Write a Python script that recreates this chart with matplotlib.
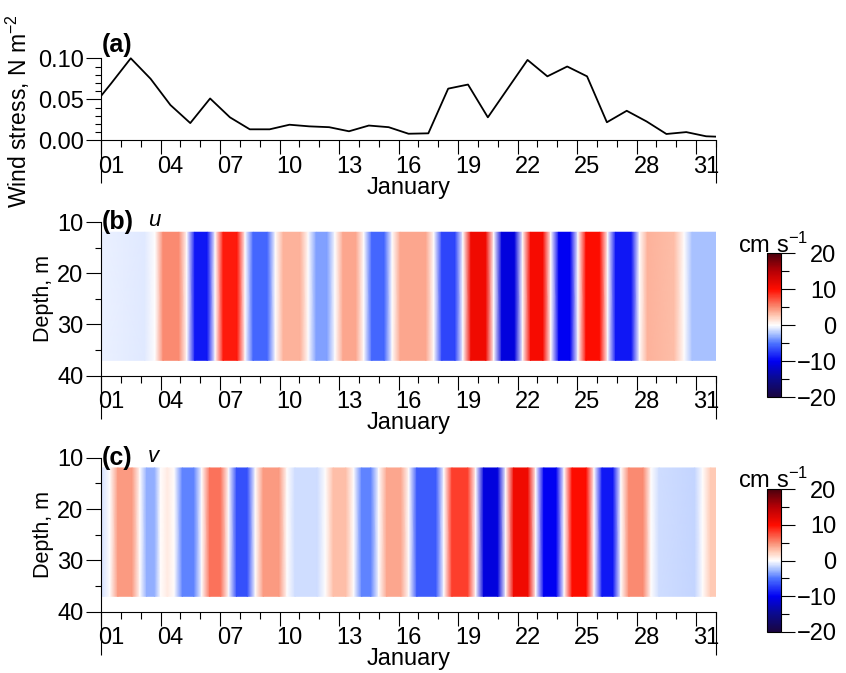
import numpy as np
import matplotlib
matplotlib.use('Agg')
import matplotlib.pyplot as plt
from matplotlib import transforms as mtrans
from matplotlib.patches import Rectangle
from matplotlib.ticker import FixedLocator, NullFormatter
from matplotlib.colors import LinearSegmentedColormap

plt.rcParams['font.family'] = ['Liberation Sans', 'DejaVu Sans']
plt.rcParams['mathtext.fontset'] = 'custom'
plt.rcParams['mathtext.rm'] = 'Liberation Sans'
plt.rcParams['mathtext.it'] = 'Liberation Sans:italic'
plt.rcParams['mathtext.bf'] = 'Liberation Sans:bold'

# ---------------- data ----------------
# day of January (1.0 = Jan 1 00:00), daily means at noon
wind_days = [0.5, 1.5, 2.5, 3.5, 4.5, 5.5, 6.5, 7.5, 8.5, 9.5, 10.5, 11.5,
             12.5, 13.5, 14.5, 15.5, 16.5, 17.5, 18.5, 19.5, 20.5, 21.5,
             22.5, 23.5, 24.5, 25.5, 26.5, 27.5, 28.5, 29.5, 30.5, 31.5, 32.5]
wind_stress = [0.039, 0.069, 0.100, 0.075, 0.043, 0.021, 0.051, 0.028,
               0.0134, 0.0134, 0.019, 0.017, 0.016, 0.011, 0.018, 0.016,
               0.008, 0.0085, 0.063, 0.068, 0.028, 0.063, 0.098, 0.078,
               0.090, 0.078, 0.022, 0.036, 0.023, 0.0077, 0.010, 0.0049, 0.004]

depth_edges = [12, 37]

# u (cm/s): node times (day) and values
u_times = [1.0, 3.2, 3.73, 4.13, 4.93, 5.33, 5.73, 6.36, 6.76, 7.16, 7.87, 8.27,
           8.67, 9.39, 9.79, 10.19, 11.05, 11.45, 11.85, 12.4, 12.8, 13.2, 13.85,
           14.25, 14.65, 15.28, 15.68, 16.08, 17.38, 17.78, 18.18, 18.85, 19.25,
           19.65, 20.4, 20.8, 21.2, 21.85, 22.25, 22.65, 23.28, 23.68, 24.08,
           24.65, 25.05, 25.45, 26.14, 26.54, 26.94, 27.74, 28.14, 28.54, 29.9,
           30.4, 30.8, 32.0]
u_vals = [-0.6, -0.8, 0, 5, 5, 0, -9, -9, 0, 9.5, 9.5, 0,
          -5.5, -5.5, 0, 3.5, 3.5, 0, -3.5, -3.5, 0, 4, 4,
          0, -5.5, -5.5, 0, 4, 4, 0, -7, -7, 0,
          11, 11, 0, -11, -11, 0, 10.5, 10.5, 0, -10,
          -10, 0, 10, 10, 0, -9, -9, 0, 3.5, 3,
          0, -2.5, -2.5]

# v (cm/s)
v_times = [1.0, 1.15, 1.45, 1.85, 2.57, 2.97, 3.3, 3.7, 4.0, 4.35, 4.7, 5.1,
           5.68, 6.08, 6.48, 7.03, 7.43, 7.83, 8.38, 8.78, 9.18, 9.98, 10.38,
           10.78, 11.91, 12.31, 12.71, 13.34, 13.74, 14.14, 14.6, 15.0, 15.4,
           16.12, 16.52, 16.92, 17.89, 18.29, 18.69, 19.49, 19.89, 20.29, 21.0,
           21.4, 21.8, 22.52, 22.92, 23.32, 23.95, 24.35, 24.75, 25.46, 25.86,
           26.26, 26.81, 27.21, 27.61, 28.33, 28.73, 29.13, 30.93, 31.33, 31.73,
           32.0]
v_vals = [-1.2, -0.8, 0, 4.5, 4.5, 0, -3, -3, 0, 1, 0, -4.5,
          -4.5, 0, 6, 6, 0, -6.5, -6.5, 0, 4.5, 4.5, 0,
          -1.3, -1.3, 0, 3, 3, 0, -4.5, -4.5, 0, 4,
          4, 0, -6, -6, 0, 8, 8, 0, -11, -11,
          0, 11, 11, 0, -10, -10, 0, 10, 10, 0,
          -9, -9, 0, 5, 5, 0, -1.3, -1.6, 0, 2.5,
          2.5]

day_ticks = [1, 4, 7, 10, 13, 16, 19, 22, 25, 28, 31]
day_minor = list(range(1, 33))
month_bounds = [1, 32]
month_name = 'January'

# colour map approximating the reference colour bar (value in cm/s -> colour)
cmap_anchors = [(-20, (0.10, 0.02, 0.25)), (-15, (0.04, 0.04, 0.55)),
                (-10, (0.00, 0.00, 0.95)), (-5, (0.30, 0.45, 1.00)),
                (-2.5, (0.65, 0.75, 1.00)), (0, (1.0, 1.0, 1.0)),
                (2.5, (1.00, 0.80, 0.72)), (5, (0.98, 0.55, 0.45)),
                (10, (1.00, 0.05, 0.00)), (15, (0.72, 0.00, 0.02)),
                (20, (0.30, 0.00, 0.05))]
cmap = LinearSegmentedColormap.from_list(
    'ref', [((v + 20) / 40, c) for v, c in cmap_anchors], N=256)

# ---------------- layout ----------------
W, H = 846, 673
fig = plt.figure(figsize=(W / 100, H / 100), dpi=100)


def rect(x0, x1, ytop, ybot):
    return [x0 / W, 1 - ybot / H, (x1 - x0) / W, (ybot - ytop) / H]


ax_a = fig.add_axes(rect(101, 716, 58.3, 140.3))
ax_b = fig.add_axes(rect(101, 716, 222, 375.7))
ax_c = fig.add_axes(rect(101, 716, 457.7, 611.7))
cax_b = fig.add_axes(rect(767.3, 780.7, 253.3, 397.3))
cax_c = fig.add_axes(rect(767.3, 780.7, 489.3, 632))

TICK_FS = 17
LW = 0.8
PX = 0.72  # points per pixel at 100 dpi


def style_time_axis(ax, ax_h_px):
    for s in ['top', 'right']:
        ax.spines[s].set_visible(False)
    for s in ['left', 'bottom']:
        ax.spines[s].set_linewidth(LW)
    ax.set_xlim(1, 32)
    ax.xaxis.set_major_locator(FixedLocator(day_ticks))
    ax.xaxis.set_minor_locator(FixedLocator(day_minor))
    ax.xaxis.set_major_formatter(NullFormatter())
    ax.tick_params(axis='x', which='major', direction='out', length=14 * PX, width=LW)
    ax.tick_params(axis='x', which='minor', direction='out', length=7 * PX, width=LW)
    ax.tick_params(axis='y', which='major', direction='out', length=15 * PX, width=LW,
                   labelsize=TICK_FS, pad=2.5 * PX)
    ax.tick_params(axis='y', which='minor', direction='out', length=6.5 * PX, width=LW)
    bt = mtrans.blended_transform_factory(ax.transData, ax.transAxes)
    off = mtrans.ScaledTranslation(0, -26.3 / 100, fig.dpi_scale_trans)
    for d in day_ticks:
        ax.text(d + 0.5, 0, '%02d' % d, transform=bt + off, ha='center',
                va='center', fontsize=TICK_FS)
    for d in month_bounds:
        ax.plot([d, d], [0, -43 / ax_h_px], transform=bt, color='black',
                lw=LW, clip_on=False, solid_capstyle='butt')
    off2 = mtrans.ScaledTranslation(0, -53.5 / 100, fig.dpi_scale_trans)
    ax.text(16.5, 0, month_name, transform=bt + off2, ha='center', va='baseline',
            fontsize=17)


# ---------------- panel (a) ----------------
line, = ax_a.plot(wind_days, wind_stress, color='black', lw=1.3)
clip = Rectangle((1, -1), 31, 2, transform=ax_a.transData)
line.set_clip_path(clip)
ax_a.set_ylim(0, 0.1)
ax_a.yaxis.set_major_locator(FixedLocator([0.0, 0.05, 0.10]))
ax_a.yaxis.set_minor_locator(FixedLocator([i / 100 for i in range(11)]))
ax_a.set_yticklabels(['0.00', '0.05', '0.10'])
style_time_axis(ax_a, 82)
ax_a.set_ylabel('Wind stress, N m$^{-2}$', fontsize=16.5)
ax_a.yaxis.set_label_coords((32 - 101) / 615, 0.36)
ax_a.text(0.001, 1.162, '(a)', transform=ax_a.transAxes, fontsize=18,
          fontweight='bold', ha='left', va='center')

# ---------------- panels (b), (c) ----------------
panels = [(ax_b, cax_b, u_times, u_vals, '(b)', 'u', 245),
          (ax_c, cax_c, v_times, v_vals, '(c)', 'v', 480)]
for ax, cax, times, vals, letter, name, ytxt in panels:
    T, D = np.meshgrid(times, depth_edges)
    C = np.tile(np.asarray(vals, dtype=float), (len(depth_edges), 1))
    m = ax.pcolormesh(T, D, C, cmap=cmap, vmin=-20, vmax=20,
                      shading='gouraud', rasterized=True)
    ax.set_ylim(40, 10)
    ax.yaxis.set_major_locator(FixedLocator([10, 20, 30, 40]))
    ax.yaxis.set_minor_locator(FixedLocator([15, 25, 35]))
    style_time_axis(ax, 154)
    ax.set_ylabel('Depth, m', fontsize=15.5)
    ax.yaxis.set_label_coords((54 - 101) / 615, 0.5)
    ax.text(0.001, 1.0, letter, transform=ax.transAxes, fontsize=18,
            fontweight='bold', ha='left', va='center')
    ax.text(47 / 615, 1.01, name, transform=ax.transAxes, fontsize=16,
            style='italic', ha='left', va='center')

    cb = fig.colorbar(m, cax=cax, ticks=[-20, -10, 0, 10, 20])
    cb.outline.set_linewidth(LW)
    cax.yaxis.set_minor_locator(FixedLocator([-15, -5, 5, 15]))
    cax.tick_params(which='major', direction='out', length=14 * PX, width=LW,
                    labelsize=TICK_FS, pad=30)
    cax.tick_params(which='minor', direction='out', length=7.5 * PX, width=LW)
    for t in cax.get_yticklabels():
        t.set_ha('right')
    fig.text(773 / W, 1 - ytxt / H, 'cm s$^{-1}$', ha='center', va='center',
             fontsize=17)

fig.savefig('out.png', dpi=100)
